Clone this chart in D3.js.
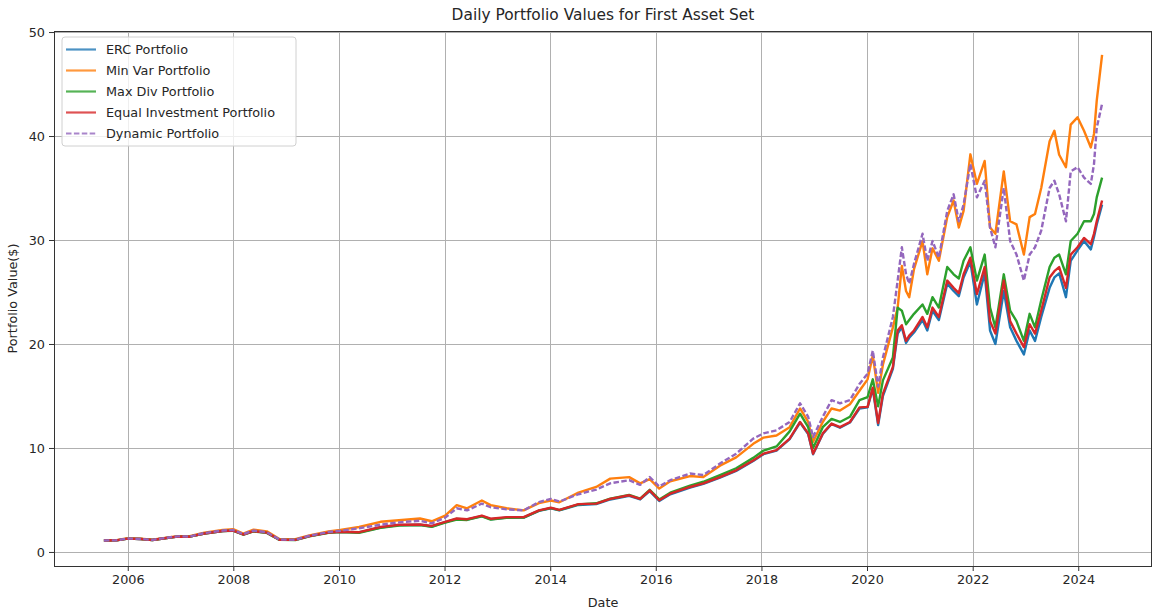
<!DOCTYPE html>
<html>
<head>
<meta charset="utf-8">
<script src="https://cdn.jsdelivr.net/npm/d3@7"></script>
<style>
html, body { margin: 0; padding: 0; background: #fff; }
svg { display: block; font-family: "DejaVu Sans", sans-serif; }
</style>
</head>
<body>
<svg id="chart" width="1155" height="612"></svg>
<script>
// values (portfolio value in $)
var dates = [
    "2005-07-20", "2005-10-15", "2006-01-01", "2006-04-01", "2006-06-20", "2006-09-15", "2006-12-10",
    "2007-03-05", "2007-06-15", "2007-10-20", "2007-12-31", "2008-03-10", "2008-05-20", "2008-08-20",
    "2008-11-15", "2009-03-05", "2009-06-10", "2009-10-20", "2010-01-10", "2010-05-20", "2010-10-15",
    "2011-02-20", "2011-07-15", "2011-10-05", "2012-01-05", "2012-03-25", "2012-06-05", "2012-09-15",
    "2012-11-15", "2013-03-05", "2013-07-01", "2013-10-15", "2014-01-05", "2014-03-05", "2014-07-15",
    "2014-11-15", "2015-02-20", "2015-07-01", "2015-09-15", "2015-11-20", "2016-01-25", "2016-04-10",
    "2016-08-25", "2016-11-25", "2017-03-20", "2017-07-10", "2017-11-05", "2018-01-15", "2018-04-15",
    "2018-07-15", "2018-09-25", "2018-11-20", "2018-12-24", "2019-03-01", "2019-05-01", "2019-06-28",
    "2019-09-05", "2019-11-10", "2020-01-05", "2020-02-10", "2020-03-18", "2020-04-20", "2020-06-28",
    "2020-07-31", "2020-08-29", "2020-09-27", "2020-10-19", "2020-11-21", "2021-01-19", "2021-02-21",
    "2021-03-29", "2021-05-12", "2021-07-09", "2021-08-22", "2021-09-27", "2021-10-30", "2021-12-16",
    "2022-01-30", "2022-03-25", "2022-05-01", "2022-06-07", "2022-08-04", "2022-09-17", "2022-10-31",
    "2022-12-21", "2023-01-30", "2023-03-08", "2023-04-20", "2023-06-17", "2023-07-20", "2023-08-22",
    "2023-10-08", "2023-11-10", "2023-12-27", "2024-02-10", "2024-03-28", "2024-04-19", "2024-05-08",
    "2024-06-14"
];
var ercValues = [
    1.10, 1.12, 1.28, 1.24, 1.15, 1.32, 1.48, 1.47, 1.78, 2.02, 2.06, 1.68, 2.00, 1.86,
    1.18, 1.16, 1.52, 1.86, 1.95, 1.88, 2.35, 2.58, 2.62, 2.45, 2.86, 3.18, 3.12, 3.45,
    3.15, 3.30, 3.30, 3.95, 4.20, 4.00, 4.52, 4.60, 5.05, 5.40, 5.05, 5.85, 4.90, 5.55,
    6.20, 6.55, 7.15, 7.80, 8.75, 9.40, 9.75, 10.85, 12.45, 11.35, 9.40, 11.35, 12.30, 11.95,
    12.45, 13.80, 13.90, 15.70, 12.20, 15.00, 17.60, 21.00, 21.60, 20.10, 20.60, 21.10, 22.30, 21.30,
    23.20, 22.30, 25.80, 25.10, 24.60, 26.40, 27.90, 23.80, 26.80, 21.30, 20.00, 25.10, 21.60, 20.30,
    19.00, 21.30, 20.30, 22.60, 25.40, 26.40, 26.80, 24.50, 28.00, 29.00, 29.90, 29.10, 30.30, 31.50,
    33.40
];
var minVarValues = [
    1.10, 1.14, 1.32, 1.27, 1.18, 1.36, 1.52, 1.52, 1.85, 2.12, 2.20, 1.76, 2.15, 1.98,
    1.24, 1.22, 1.60, 1.98, 2.12, 2.40, 2.90, 3.05, 3.22, 2.95, 3.50, 4.50, 4.20, 4.95,
    4.50, 4.20, 4.00, 4.70, 4.95, 4.78, 5.70, 6.25, 7.05, 7.20, 6.60, 7.00, 6.10, 6.80,
    7.30, 7.20, 8.30, 9.10, 10.40, 11.00, 11.20, 12.00, 13.80, 12.50, 10.60, 12.50, 13.80, 13.60,
    14.20, 15.50, 16.60, 18.90, 15.30, 18.00, 21.60, 23.50, 27.50, 25.10, 24.50, 27.20, 29.90, 26.70,
    29.20, 28.00, 32.20, 33.80, 31.20, 32.80, 38.24, 35.40, 37.60, 31.20, 30.60, 36.60, 31.80, 31.50,
    28.60, 32.20, 32.50, 35.00, 39.50, 40.50, 38.20, 37.00, 41.10, 41.80, 40.50, 38.90, 40.20, 43.40,
    47.80
];
var maxDivValues = [
    1.10, 1.12, 1.28, 1.24, 1.15, 1.32, 1.48, 1.47, 1.78, 2.01, 2.04, 1.66, 1.98, 1.84,
    1.16, 1.15, 1.50, 1.84, 1.92, 1.84, 2.32, 2.55, 2.58, 2.42, 2.82, 3.12, 3.08, 3.42,
    3.12, 3.28, 3.30, 3.98, 4.22, 4.03, 4.58, 4.68, 5.12, 5.48, 5.12, 5.98, 5.05, 5.70,
    6.38, 6.75, 7.40, 8.05, 9.05, 9.75, 10.15, 11.60, 13.30, 12.00, 10.00, 12.00, 12.80, 12.50,
    13.00, 14.60, 14.90, 16.60, 14.00, 16.50, 18.70, 23.50, 23.20, 21.90, 22.30, 22.90, 23.80, 22.90,
    24.50, 23.50, 27.40, 26.70, 26.30, 28.00, 29.30, 26.10, 28.60, 23.50, 21.60, 26.70, 23.20, 22.20,
    20.30, 22.90, 21.60, 24.20, 27.40, 28.30, 28.60, 26.70, 29.90, 30.60, 31.80, 31.80, 32.50, 34.10,
    36.00
];
var equalValues = [
    1.10, 1.12, 1.28, 1.24, 1.15, 1.32, 1.48, 1.47, 1.78, 2.02, 2.06, 1.68, 2.00, 1.86,
    1.18, 1.16, 1.52, 1.86, 1.95, 1.90, 2.40, 2.62, 2.64, 2.50, 2.90, 3.22, 3.15, 3.50,
    3.20, 3.35, 3.35, 4.00, 4.25, 4.05, 4.60, 4.65, 5.10, 5.45, 5.10, 5.93, 4.97, 5.60,
    6.25, 6.60, 7.20, 7.85, 8.80, 9.45, 9.80, 10.90, 12.50, 11.40, 9.45, 11.40, 12.35, 12.00,
    12.50, 13.90, 13.95, 15.80, 12.40, 15.20, 17.80, 21.30, 21.80, 20.30, 20.80, 21.30, 22.60, 21.60,
    23.50, 22.60, 26.10, 25.40, 24.90, 26.70, 28.30, 24.80, 27.40, 22.20, 21.00, 26.10, 22.20, 21.00,
    19.70, 21.90, 21.00, 23.20, 26.40, 27.00, 27.40, 25.40, 28.60, 29.30, 30.20, 29.60, 30.60, 31.80,
    33.80
];
var dynamicValues = [
    1.10, 1.13, 1.30, 1.25, 1.16, 1.34, 1.50, 1.49, 1.82, 2.06, 2.12, 1.72, 2.06, 1.90,
    1.20, 1.18, 1.56, 1.92, 2.04, 2.28, 2.62, 2.85, 3.00, 2.75, 3.30, 4.20, 4.00, 4.65,
    4.30, 4.10, 4.00, 4.80, 5.10, 4.85, 5.55, 6.00, 6.60, 6.90, 6.45, 7.20, 6.30, 6.90,
    7.55, 7.40, 8.50, 9.45, 10.90, 11.40, 11.70, 12.50, 14.30, 13.00, 11.05, 13.00, 14.60, 14.30,
    14.60, 16.16, 17.15, 19.36, 15.90, 18.70, 22.60, 26.10, 29.30, 26.70, 25.80, 27.70, 30.60, 28.00,
    29.90, 28.30, 32.80, 34.40, 31.80, 33.40, 37.30, 34.10, 35.70, 31.20, 29.30, 35.00, 29.90, 28.60,
    26.10, 28.60, 29.30, 30.90, 35.00, 35.70, 34.40, 31.80, 36.60, 37.00, 36.00, 35.40, 37.30, 40.80,
    43.10
];
var seriesNames = ["ERC Portfolio", "Min Var Portfolio", "Max Div Portfolio", "Equal Investment Portfolio", "Dynamic Portfolio"];
var seriesColors = ["#1f77b4", "#ff7f0e", "#2ca02c", "#d62728", "#9467bd"];
var yTicks = [0, 10, 20, 30, 40, 50];

var plotLeft = 54, plotRight = 1152, plotTop = 31, plotBottom = 566;
var svg = d3.select("#chart");

var parseDate = d3.timeParse("%Y-%m-%d");
var times = dates.map(parseDate);
var allSeries = [ercValues, minVarValues, maxDivValues, equalValues, dynamicValues];

// matplotlib-like 5% margin on the time axis
var t0 = +times[0], t1 = +times[times.length - 1];
var pad = (t1 - t0) * 0.05;
var xScale = d3.scaleTime()
    .domain([new Date(t0 - pad), new Date(t1 + pad)])
    .range([plotLeft, plotRight]);
var yScale = d3.scaleLinear()
    .domain([-1.35, 50.1])
    .range([plotBottom, plotTop]);

var xTicks = xScale.ticks(d3.timeYear.every(2));

// grid
var grid = svg.append("g").attr("class", "grid")
    .attr("stroke", "#b0b0b0").attr("stroke-width", 1);
grid.selectAll(".vx").data(xTicks).enter().append("line")
    .attr("x1", function (d) { return Math.round(xScale(d)) + 0.5; })
    .attr("x2", function (d) { return Math.round(xScale(d)) + 0.5; })
    .attr("y1", plotTop).attr("y2", plotBottom);
grid.selectAll(".hy").data(yTicks).enter().append("line")
    .attr("y1", function (d) { return Math.round(yScale(d)) + 0.5; })
    .attr("y2", function (d) { return Math.round(yScale(d)) + 0.5; })
    .attr("x1", plotLeft).attr("x2", plotRight);

// series lines
var line = d3.line()
    .x(function (d, i) { return xScale(times[i]); })
    .y(function (d) { return yScale(d); });

svg.append("g").attr("class", "lines")
    .selectAll("path").data(allSeries).enter().append("path")
    .attr("d", line)
    .attr("fill", "none")
    .attr("stroke", function (d, i) { return seriesColors[i]; })
    .attr("stroke-width", 2.4)
    .attr("stroke-linejoin", "round")
    .attr("stroke-dasharray", function (d, i) { return i === 4 ? "5.5,2.4" : null; });

// axes
var xAxis = svg.append("g")
    .attr("transform", "translate(0," + plotBottom + ")")
    .call(d3.axisBottom(xScale).tickValues(xTicks).tickFormat(d3.timeFormat("%Y")).tickSize(5).tickPadding(4));
var yAxis = svg.append("g")
    .attr("transform", "translate(" + plotLeft + ",0)")
    .call(d3.axisLeft(yScale).tickValues(yTicks).tickFormat(d3.format("d")).tickSize(5).tickPadding(4));
[xAxis, yAxis].forEach(function (ax) {
    ax.select(".domain").remove();
    ax.selectAll("text").attr("font-size", 12.8).attr("fill", "#262626")
        .attr("font-family", "DejaVu Sans, sans-serif");
    ax.selectAll("line").attr("stroke", "#333");
});

// frame
svg.append("rect")
    .attr("x", plotLeft + 0.5).attr("y", plotTop + 0.5)
    .attr("width", plotRight - plotLeft - 1).attr("height", plotBottom - plotTop)
    .attr("fill", "none").attr("stroke", "#333").attr("stroke-width", 1);

// titles
svg.append("text")
    .attr("x", (plotLeft + plotRight) / 2).attr("y", 20)
    .attr("text-anchor", "middle").attr("font-size", 15.4).attr("fill", "#262626")
    .text("Daily Portfolio Values for First Asset Set");
svg.append("text")
    .attr("x", (plotLeft + plotRight) / 2).attr("y", 607)
    .attr("text-anchor", "middle").attr("font-size", 12.8).attr("fill", "#262626")
    .text("Date");
svg.append("text")
    .attr("transform", "translate(17," + (plotTop + plotBottom) / 2 + ") rotate(-90)")
    .attr("text-anchor", "middle").attr("font-size", 12.8).attr("fill", "#262626")
    .text("Portfolio Value($)");

// legend
var legend = svg.append("g").attr("transform", "translate(62,37)");
legend.append("rect")
    .attr("width", 234).attr("height", 109).attr("rx", 3)
    .attr("fill", "#fff").attr("fill-opacity", 0.8)
    .attr("stroke", "#d0d0d0").attr("stroke-width", 1);
var items = legend.selectAll(".item").data(seriesNames).enter().append("g")
    .attr("transform", function (d, i) { return "translate(0," + (12.5 + i * 21) + ")"; });
items.append("line")
    .attr("x1", 4).attr("x2", 34)
    .attr("stroke", function (d, i) { return seriesColors[i]; })
    .attr("stroke-opacity", 0.8)
    .attr("stroke-width", 2.2)
    .attr("stroke-dasharray", function (d, i) { return i === 4 ? "5.5,2.4" : null; });
items.append("text")
    .attr("x", 44).attr("y", 4.6)
    .attr("font-size", 12.8).attr("fill", "#262626")
    .text(function (d) { return d; });
</script>
</body>
</html>
